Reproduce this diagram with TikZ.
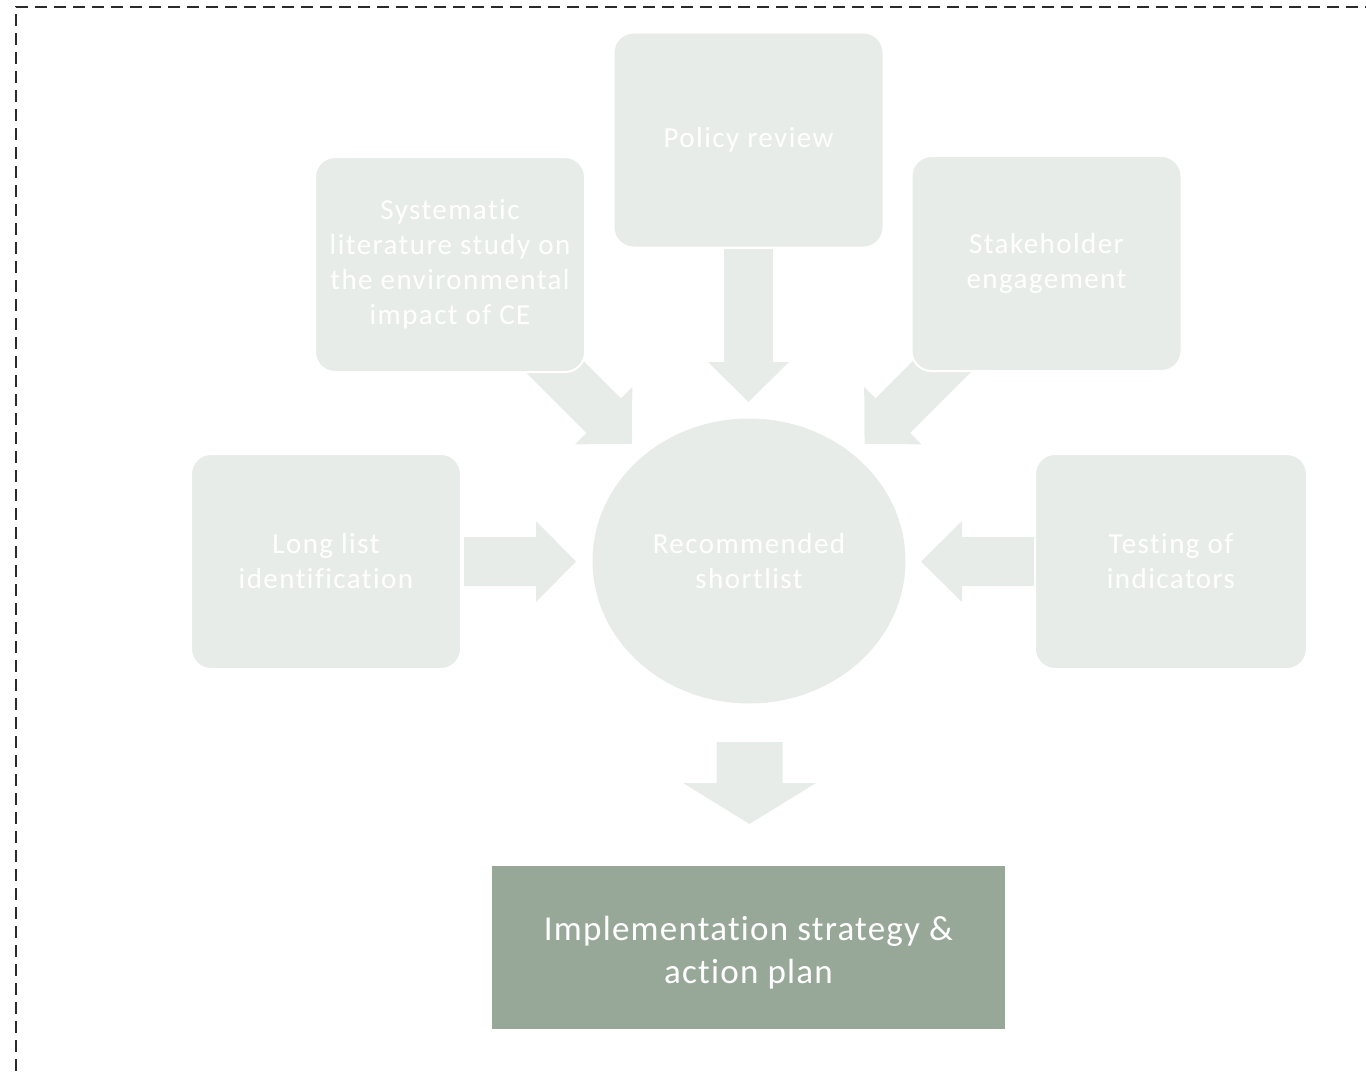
\documentclass[tikz,border=0pt]{standalone}
\usepackage{fontspec}
\setmainfont{Carlito}
\newfontfamily\boxfont[LetterSpace=5, Ligatures=NoCommon]{Carlito}
\newfontfamily\outfont[LetterSpace=3.5, Ligatures=NoCommon]{Carlito}
\usetikzlibrary{shapes.geometric}

\definecolor{paleg}{HTML}{E8ECE8}
\definecolor{sage}{HTML}{98A898}
\definecolor{framegray}{HTML}{2B2B2B}

% Block arrow: #1 back centre, #2 angle, #3 total length,
% #4 half shaft width, #5 half head width, #6 head length
\newcommand\blockarrow[6]{%
  \fill[paleg, shift={#1}, rotate=#2]
    (0,-#4) -- ({#3-#6},-#4) -- ({#3-#6},-#5) -- (#3,0)
    -- ({#3-#6},#5) -- ({#3-#6},#4) -- (0,#4) -- cycle;}

\tikzset{
  stage/.style={rectangle, rounded corners=10pt, fill=paleg, draw=white,
    line width=1pt, minimum width=135pt, minimum height=107.5pt,
    inner sep=0pt, align=center, text=white,
    font=\boxfont\fontsize{14.5}{17.5}\selectfont},
  hub/.style={ellipse, fill=paleg, minimum width=156.5pt,
    minimum height=142.5pt, inner sep=0pt, align=center, text=white,
    font=\boxfont\fontsize{14.5}{17.5}\selectfont},
  outcome/.style={rectangle, fill=sage, minimum width=256.5pt,
    minimum height=81.5pt, inner sep=0pt},
  outtext/.style={align=center, text=white,
    font=\outfont\fontsize{17.5}{21.5}\selectfont},
  frameline/.style={draw=framegray, line width=1.4pt,
    dash pattern=on 6pt off 3.5pt}
}

\begin{document}
\begin{tikzpicture}[x=0.5pt, y=0.5pt]
\useasboundingbox (0,0) rectangle (1366,-1072);

% dashed frame (open towards the right and bottom)
\coordinate (fb) at (16,-1090);
\coordinate (fc) at (16,-7);
\coordinate (fr) at (1390,-7);
\draw[frameline] (fb) -- (fc) -- (fr);

% arrow bases
\coordinate (aL)  at (464,-561.5);
\coordinate (aR)  at (1036,-561.5);
\coordinate (aT)  at (748.5,-249);
\coordinate (aUL) at (536.5,-348.5);
\coordinate (aUR) at (960,-348.5);
\coordinate (aB)  at (749.5,-742);

\blockarrow{(aL)}{0}{112}{24.5}{40.5}{40}
\blockarrow{(aR)}{180}{115}{24.5}{40.5}{41}
\blockarrow{(aT)}{-90}{153}{24.5}{40.5}{40}
\blockarrow{(aUL)}{-45}{135}{24.5}{40.5}{40}
\blockarrow{(aUR)}{-135}{135}{24.5}{40.5}{40}
\blockarrow{(aB)}{-90}{82}{33}{66.5}{41}

% input stages
\node[stage] (policy) at (748.5,-140) {Policy review};
\node[stage] (syslit) at (450,-264.5)
  {Systematic\\literature study on\\the environmental\\impact of CE};
\node[stage] (stake) at (1046.5,-263.5) {Stakeholder\\engagement};
\node[stage] (longlist) at (326,-561.5) {Long list\\identification};
\node[stage, minimum width=136pt] (testing) at (1171,-561.5)
  {Testing of\\indicators};

% hub
\node[hub] (short) at (749,-561) {Recommended\\shortlist};

% outcome
\node[outcome] (impl) at (748.5,-947.5) {};
\node[outtext] (impltext) at ([yshift=-2.5pt]impl.center)
  {Implementation strategy \&\\action plan};
\end{tikzpicture}
\end{document}
